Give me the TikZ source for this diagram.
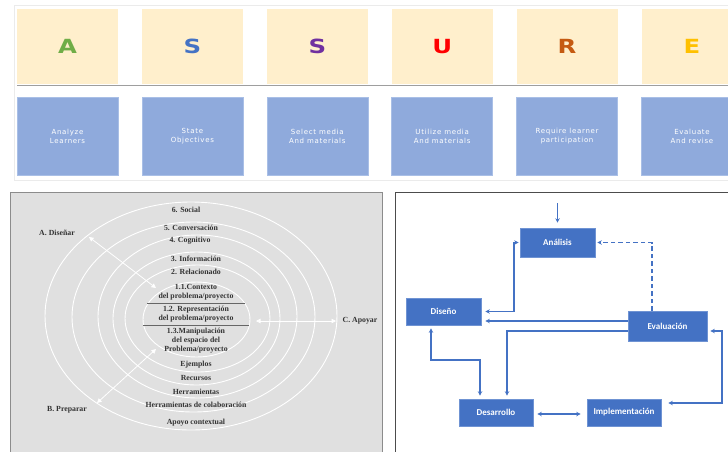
\documentclass[tikz,border=0pt]{standalone}
\usepackage{fontspec}
\usepackage{graphicx}
\setmainfont{Liberation Serif}
\newfontfamily\letterfont{DejaVu Sans}
\newfontfamily\stepfont[LetterSpace=10]{DejaVu Sans}
\newfontfamily\calfont{Carlito}
\usetikzlibrary{arrows.meta,calc}

\definecolor{tanfill}{HTML}{FFEFCC}
\definecolor{stepblue}{HTML}{8FAADC}
\definecolor{stepedge}{HTML}{A9BFE6}
\definecolor{cA}{HTML}{70AD47}
\definecolor{cS}{HTML}{4472C4}
\definecolor{cSS}{HTML}{7030A0}
\definecolor{cU}{HTML}{FF0000}
\definecolor{cR}{HTML}{C55A11}
\definecolor{cE}{HTML}{FFC000}
\definecolor{panelgray}{HTML}{E0E0E0}
\definecolor{ringink}{HTML}{333333}
\definecolor{flowblue}{HTML}{4472C4}
\definecolor{flowedge}{HTML}{6F93D3}

\tikzset{
  tanbox/.style={fill=tanfill, minimum width=101pt, minimum height=75pt, inner sep=0pt,
    font=\letterfont\bfseries\fontsize{19.5}{19.5}\selectfont},
  stepbox/.style={fill=stepblue, draw=stepedge, line width=0.6pt, minimum width=101pt,
    minimum height=78pt, inner sep=0pt, align=center, text=white,
    font=\stepfont\fontsize{7}{9}\selectfont},
  ringtext/.style={text=ringink, inner sep=0pt, align=center,
    font=\bfseries\fontsize{7.8}{9}\selectfont},
  ring/.style={draw=white, line width=0.9pt},
  whitearrow/.style={draw=white, line width=0.8pt,
    {Triangle[width=4.5pt,length=4.5pt]}-{Triangle[width=4.5pt,length=4.5pt]}},
  flowbox/.style={fill=flowblue, draw=flowedge, line width=0.6pt, inner sep=0pt,
    text=white, font=\calfont\bfseries\fontsize{9}{9}\selectfont},
  flow/.style={draw=flowblue, line width=1.2pt, -{Stealth[length=4.5pt,width=4.5pt]}},
  flowboth/.style={draw=flowblue, line width=1.2pt,
    {Stealth[length=4.5pt,width=4.5pt]}-{Stealth[length=4.5pt,width=4.5pt]}},
}

\begin{document}
\begin{tikzpicture}[x=1pt,y=-1pt]
\clip (0,0) rectangle (728,451);
\fill[white] (0,0) rectangle (728,451);

% ---------------- ASSURE strip ----------------
\draw[draw=black!8, line width=0.5pt] (14,5) rectangle (745,180);
\foreach \i/\ltr/\col/\txt in {
  0/A/cA/{Analyze\\Learners},
  1/S/cS/{State\\Objectives},
  2/S/cSS/{Select media\\And materials},
  3/U/cU/{Utilize media\\And materials},
  4/R/cR/{Require learner\\participation},
  5/E/cE/{Evaluate\\And revise}} {
  \node[tanbox, text=\col] (letter\i) at ({67.5+124.9*\i},46.5) {\scalebox{1.25}[1]{\ltr}};
  \node[stepbox] (stage\i) at ({67.5+124.9*\i},136) {\txt};
}
\draw[draw=black!38, line width=1.5pt] (17,85.5) -- (745,85.5);

% ---------------- nested rings panel ----------------
\draw[fill=panelgray, draw=black!45, line width=1pt] (10,192) rectangle (382,470);

\draw[ring] (191,316) ellipse [x radius=146pt, y radius=114pt];
\draw[ring] (193.5,317) ellipse [x radius=121.5pt, y radius=95pt];
\draw[ring] (197.5,316.5) ellipse [x radius=99.5pt, y radius=81.5pt];
\draw[ring] (196.5,318.5) ellipse [x radius=83.5pt, y radius=66.5pt];
\draw[ring] (197.5,318.5) ellipse [x radius=72.5pt, y radius=53.5pt];
\draw[ring] (196.5,319.5) ellipse [x radius=53.5pt, y radius=37.5pt];

\draw[draw=black!60, line width=0.8pt] (147,303) -- (245,303);
\draw[draw=black!60, line width=0.8pt] (143,325) -- (249,325);

\node[ringtext] (social) at (186,210) {6. Social};
\node[ringtext] (conv) at (191,228) {5. Conversación};
\node[ringtext] (cogn) at (190,241) {4. Cognitivo};
\node[ringtext] (info) at (196,259) {3. Información};
\node[ringtext] (rel) at (196,272) {2. Relacionado};
\node[ringtext] (ctx) at (196,292.5) {1.1.Contexto\\del problema/proyecto};
\node[ringtext] (rep) at (196,314.5) {1.2. Representación\\del problema/proyecto};
\node[ringtext] (manip) at (196,341) {1.3.Manipulación\\del espacio del\\Problema/proyecto};
\node[ringtext] (ejem) at (196,365) {Ejemplos};
\node[ringtext] (recu) at (196,378) {Recursos};
\node[ringtext] (herr) at (196,392) {Herramientas};
\node[ringtext] (colab) at (196,405) {Herramientas de colaboración};
\node[ringtext] (apoyo) at (196,423) {Apoyo contextual};

\node[ringtext] (disenar) at (57,233) {A. Diseñar};
\node[ringtext] (preparar) at (67,410) {B. Preparar};
\node[ringtext] (apoyar) at (360,321) {C. Apoyar};

\coordinate (aOut) at (89,237);
\coordinate (aIn) at (156,288);
\coordinate (bOut) at (97,403);
\coordinate (bIn) at (156,349);
\coordinate (cIn) at (256,321);
\coordinate (cOut) at (336,321);
\draw[whitearrow] (aOut) -- (aIn);
\draw[whitearrow] (bOut) -- (bIn);
\draw[whitearrow] (cIn) -- (cOut);

% ---------------- ADDIE cycle panel ----------------
\draw[draw=black!70, line width=1pt] (395,470) -- (395,192) -- (745,192);

\node[flowbox, minimum width=75pt, minimum height=29pt] (ana) at (557.5,242.5) {Análisis};
\node[flowbox, minimum width=75pt, minimum height=27pt] (dis) at (443.5,311.5) {Diseño};
\node[flowbox, minimum width=79pt, minimum height=30pt] (eva) at (667.5,326) {Evaluación};
\node[flowbox, minimum width=74pt, minimum height=27pt] (des) at (496,412.5) {Desarrollo};
\node[flowbox, minimum width=74pt, minimum height=27pt] (imp) at (624,412.5) {Implementación};

\coordinate (entry) at (557.5,203);
\coordinate (bendA) at (514,280);
\coordinate (bendD) at (455,360);
\coordinate (bendE) at (722,367);

\draw[flow] (entry) -- ($(ana.north)+(0,-5)$);
\draw[flow, dashed, dash pattern=on 4.5pt off 3pt] ($(eva.north)+(-15.5,0)$) |- ($(ana.east)+(2,0)$);
\draw[flowboth] ($(dis.east)+(4,0)$) -| (bendA) |- ($(ana.west)+(-1,0)$);
\draw[flow] ($(eva.west)+(0,-5)$) -- ($(dis.east)+(4,9.5)$);
\draw[flow] ($(eva.west)+(0,5)$) -| ($(des.north)+(11,-3)$);
\draw[flowboth] ($(dis.south)+(-12.5,3)$) |- (bendD) -| ($(des.north)+(-16,-3)$);
\draw[flowboth] ($(des.east)+(4,1.5)$) -- ($(imp.west)+(-6,1.5)$);
\draw[flowboth] ($(imp.east)+(7,-9.5)$) -| (bendE) |- ($(eva.east)+(3,5)$);
\end{tikzpicture}
\end{document}
